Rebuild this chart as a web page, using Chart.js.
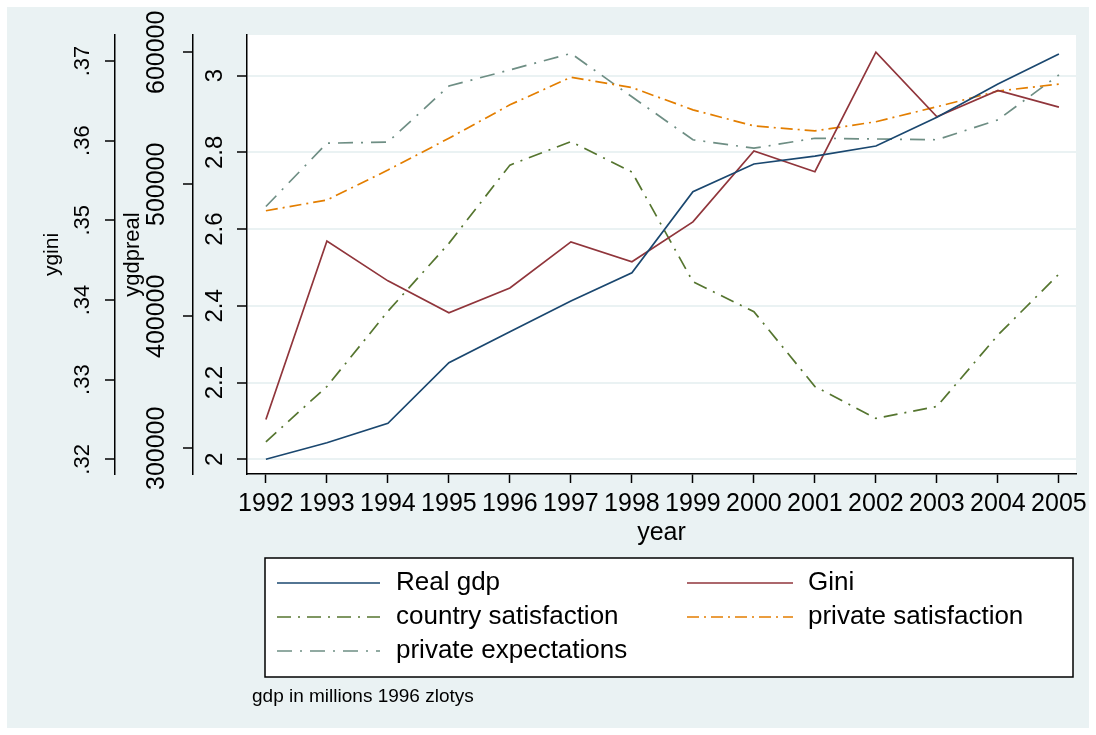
<!DOCTYPE html>
<html>
<head>
<meta charset="utf-8">
<script src="https://cdn.jsdelivr.net/npm/chart.js@4.4.0/dist/chart.umd.min.js"></script>
<style>
  html, body { margin: 0; padding: 0; background: #fff; }
  #wrap { position: relative; width: 1096px; height: 735px; }
</style>
</head>
<body>
<div id="wrap"><canvas id="chart"></canvas></div>
<script>
const years = [1992, 1993, 1994, 1995, 1996, 1997, 1998, 1999, 2000, 2001, 2002, 2003, 2004, 2005]

const realGdp = [291700, 304200, 318900, 364800, 388300, 411600, 433000, 494400, 515400, 521400, 529000, 550800, 576000, 598700]
const gini = [.3250, .3474, .3424, .3384, .3415, .3473, .3448, .3498, .3587, .3561, .3711, .3630, .3663, .3642]
const countrySat = [2.046, 2.190, 2.386, 2.563, 2.767, 2.828, 2.749, 2.463, 2.385, 2.190, 2.107, 2.138, 2.324, 2.483]
const privateSat = [2.648, 2.676, 2.754, 2.837, 2.924, 2.996, 2.969, 2.911, 2.869, 2.856, 2.880, 2.919, 2.960, 2.978]
const privateExp = [2.659, 2.824, 2.827, 2.973, 3.015, 3.058, 2.945, 2.833, 2.811, 2.837, 2.835, 2.833, 2.885, 3.002]

const giniTicks = [.32, .33, .34, .35, .36, .37]
const gdpTicks = [300000, 400000, 500000, 600000]
const satTicks = [2, 2.2, 2.4, 2.6, 2.8, 3]

const footnote = 'gdp in millions 1996 zlotys'

const FONT = "'Liberation Sans', Arial, sans-serif"
const BG = '#eaf2f3'

window.addEventListener('DOMContentLoaded', init)

function init() {
    new Chart(document.getElementById('chart'), buildConfig())
}

function series(values) {
    return values.map((v, i) => ({ x: years[i], y: v }))
}

function makeDataset(label, values, color, axis, dash) {
    return {
        label: label,
        data: series(values),
        yAxisID: axis,
        borderColor: color,
        backgroundColor: color,
        borderWidth: 1.7,
        borderDash: dash,
        pointRadius: 0,
        tension: 0,
        fill: false
    }
}

function setTicks(list) {
    return scale => { scale.ticks = list.map(v => ({ value: v })) }
}

function yAxis(opts) {
    return {
        type: 'linear',
        position: 'left',
        weight: opts.weight,
        min: opts.min,
        max: opts.max,
        afterBuildTicks: setTicks(opts.ticks),
        afterFit: scale => { scale.width = opts.width },
        border: { display: true, color: '#000', width: 1.5 },
        grid: {
            display: true,
            drawOnChartArea: !!opts.grid,
            color: BG,
            lineWidth: 2,
            drawTicks: true,
            tickLength: 10,
            tickColor: '#000',
            tickWidth: 1.5
        },
        ticks: {
            color: '#000',
            font: { family: FONT, size: opts.fontSize },
            minRotation: 90,
            maxRotation: 90,
            crossAlign: 'center',
            padding: opts.padding,
            callback: opts.format
        },
        title: opts.title ? {
            display: true,
            text: opts.title,
            color: '#000',
            font: { family: FONT, size: opts.titleSize },
            padding: { top: opts.titlePad, bottom: 0 }
        } : { display: false }
    }
}

// background, plot region, legend box and footnote
const stataFrame = {
    id: 'stataFrame',
    beforeDraw(chart) {
        const { ctx, chartArea } = chart
        ctx.save()
        ctx.fillStyle = '#fff'
        ctx.fillRect(0, 0, chart.width, chart.height)
        ctx.fillStyle = BG
        ctx.fillRect(7, 7, chart.width - 14, chart.height - 14)
        ctx.fillStyle = '#fff'
        ctx.fillRect(chartArea.left, chartArea.top, chartArea.right - chartArea.left, chartArea.bottom - chartArea.top)
        ctx.restore()
    },
    afterDraw(chart) {
        const ctx = chart.ctx
        const box = { left: 265, top: 558, right: 1073, bottom: 677 }
        ctx.save()
        ctx.fillStyle = '#fff'
        ctx.fillRect(box.left, box.top, box.right - box.left, box.bottom - box.top)
        ctx.strokeStyle = '#000'
        ctx.lineWidth = 1.5
        ctx.strokeRect(box.left, box.top, box.right - box.left, box.bottom - box.top)

        const cols = [{ x1: 277, x2: 380, tx: 396 }, { x1: 687, x2: 793, tx: 808 }]
        const rows = [583, 617, 651]
        ctx.font = `26px ${FONT}`
        ctx.textBaseline = 'middle'
        ctx.textAlign = 'left'
        chart.data.datasets.forEach((ds, i) => {
            const c = cols[i % 2]
            const y = rows[Math.floor(i / 2)]
            ctx.beginPath()
            ctx.setLineDash(ds.borderDash || [])
            ctx.strokeStyle = ds.borderColor
            ctx.lineWidth = ds.borderWidth
            ctx.moveTo(c.x1, y)
            ctx.lineTo(c.x2, y)
            ctx.stroke()
            ctx.setLineDash([])
            ctx.fillStyle = '#000'
            ctx.fillText(ds.label, c.tx, y)
        })

        ctx.font = `19px ${FONT}`
        ctx.fillText(footnote, 252, 697)
        ctx.restore()
    }
}

function buildConfig() {
    const datasets = [
        makeDataset('Real gdp', realGdp, '#1a476f', 'gdp', []),
        makeDataset('Gini', gini, '#90353b', 'gini', []),
        makeDataset('country satisfaction', countrySat, '#55752f', 'sat', [14, 7, 2, 7]),
        makeDataset('private satisfaction', privateSat, '#e37e00', 'sat', [12, 5, 2, 5]),
        makeDataset('private expectations', privateExp, '#6e8e84', 'sat', [15, 8, 2, 8])
    ]

    return {
        type: 'line',
        data: { datasets },
        plugins: [stataFrame],
        options: {
            responsive: true,
            maintainAspectRatio: false,
            animation: false,
            layout: { padding: { left: 7, top: 35, right: 20, bottom: 186 } },
            plugins: {
                legend: { display: false },
                tooltip: { enabled: false }
            },
            scales: {
                x: {
                    type: 'linear',
                    position: 'bottom',
                    min: 1991.69,
                    max: 2005.28,
                    afterBuildTicks: setTicks(years),
                    afterFit: scale => { scale.height = 75 },
                    border: { display: true, color: '#000', width: 1.5 },
                    grid: {
                        display: true,
                        drawOnChartArea: false,
                        drawTicks: true,
                        tickLength: 9,
                        tickColor: '#000',
                        tickWidth: 1.5
                    },
                    ticks: {
                        color: '#000',
                        autoSkip: false,
                        maxRotation: 0,
                        minRotation: 0,
                        padding: 6,
                        font: { family: FONT, size: 25 },
                        callback: v => String(v)
                    },
                    title: {
                        display: true,
                        text: 'year',
                        color: '#000',
                        font: { family: FONT, size: 25 },
                        padding: { top: 0, bottom: 1 }
                    }
                },
                gini: yAxis({
                    weight: 3, width: 108, min: .31816, max: .37326, ticks: giniTicks,
                    fontSize: 22, padding: 6.7, format: v => v.toFixed(2).replace(/^0/, ''),
                    title: 'ygini', titleSize: 21, titlePad: 33
                }),
                gdp: yAxis({
                    weight: 2, width: 78, min: 280530, max: 613106, ticks: gdpTicks,
                    fontSize: 25, padding: -15.7, format: v => String(v),
                    title: 'ygdpreal', titleSize: 22, titlePad: 5
                }),
                sat: yAxis({
                    weight: 1, width: 54, min: 1.962, max: 3.106, ticks: satTicks,
                    fontSize: 24, padding: 5.3, grid: true,
                    format: v => String(Math.round(v * 10) / 10)
                })
            }
        }
    }
}
</script>
</body>
</html>
